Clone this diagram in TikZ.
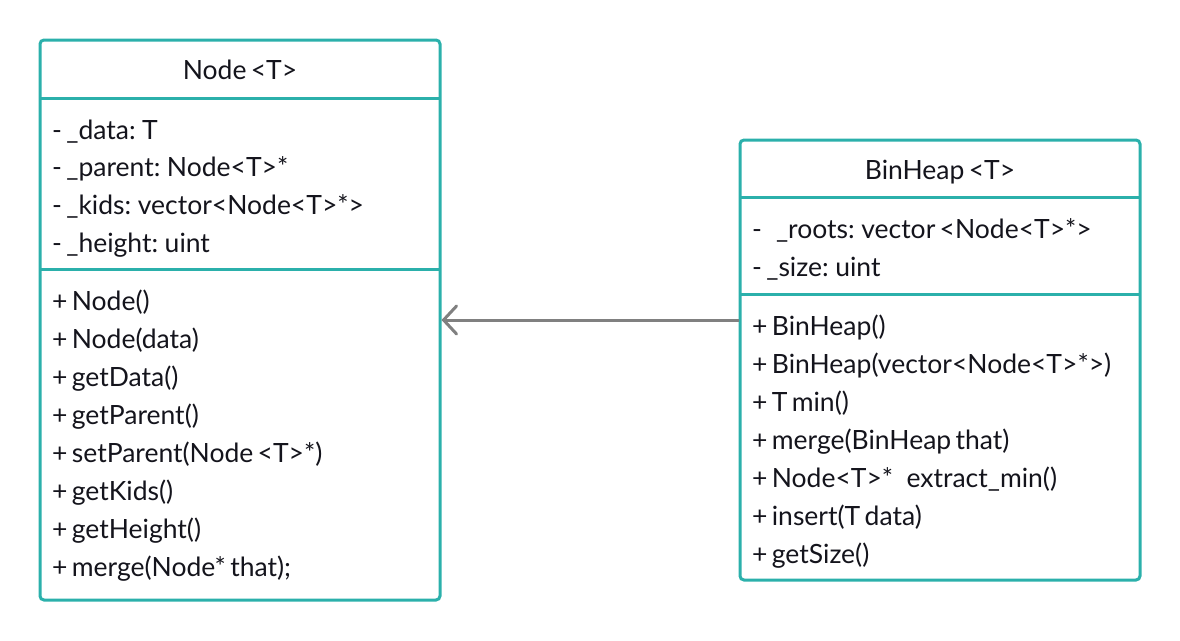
\documentclass[tikz,border=0pt]{standalone}
\usepackage{fontspec}
\setmainfont{Lato}
\usetikzlibrary{arrows.meta}
\definecolor{teal}{HTML}{2BB0AB}
\definecolor{txt}{HTML}{14141C}
\definecolor{arr}{HTML}{808080}
\newcommand{\umlfont}{\fontsize{26.5}{30}\selectfont\spaceskip=4.3pt plus 1pt minus 1pt\relax}
\tikzset{
  classbox/.style={draw=teal, line width=3pt, rounded corners=4pt, fill=white, inner sep=0pt},
  divider/.style={draw=teal, line width=3pt},
  member/.style={anchor=west, inner sep=0pt, text=txt, font=\umlfont, text height=23.4pt, text depth=4.4pt},
  title/.style={member, anchor=center},
  assoc/.style={draw=arr, line width=3pt, -{Straight Barb[length=13pt, width=28pt, line cap=round]}}
}
\begin{document}
\begin{tikzpicture}[x=1pt, y=-1pt]
\useasboundingbox (0,0) rectangle (1180,640);
% Node box
\node[classbox, minimum width=400pt, minimum height=560pt] (nodebox) at (240,320) {};
\draw[divider] (40,98) coordinate (nd1a) -- (440,98) coordinate (nd1b);
\draw[divider] (40,269) coordinate (nd2a) -- (440,269) coordinate (nd2b);
\node[title] (ntitle) at (240,70) {Node <T>};
\node[member] (na1) at (52,130) {- \_data: T};
\node[member] (na2) at (52,167) {- \_parent: Node<T>*};
\node[member] (na3) at (52,205) {- \_kids: vector<Node<T>*>};
\node[member] (na4) at (52,243) {- \_height: uint};
\node[member] (nm1) at (52,301) {+ Node()};
\node[member] (nm2) at (52,339) {+ Node(data)};
\node[member] (nm3) at (52,377) {+ getData()};
\node[member] (nm4) at (52,415) {+ getParent()};
\node[member] (nm5) at (52,453) {+ setParent(Node <T>*)};
\node[member] (nm6) at (52,491) {+ getKids()};
\node[member] (nm7) at (52,529) {+ getHeight()};
\node[member] (nm8) at (52,567) {+ merge(Node* that);};
% BinHeap box
\node[classbox, minimum width=400pt, minimum height=440pt] (heapbox) at (940,360) {};
\draw[divider] (740,197) coordinate (hd1a) -- (1140,197) coordinate (hd1b);
\draw[divider] (740,294) coordinate (hd2a) -- (1140,294) coordinate (hd2b);
\node[title] (htitle) at (940,170) {BinHeap <T>};
\node[member] (ha1) at (752,229) {-\hspace{14pt}\_roots: vector <Node<T>*>};
\node[member] (ha2) at (752,267) {- \_size: uint};
\node[member] (hm1) at (752,326) {+ BinHeap()};
\node[member] (hm2) at (752,364) {+ BinHeap(vector<Node<T>*>)};
\node[member] (hm3) at (752,402) {+ T min()};
\node[member] (hm4) at (752,440) {+ merge(BinHeap that)};
\node[member] (hm5) at (752,478) {+ Node<T>*\hspace{9pt} extract\_min()};
\node[member] (hm6) at (752,516) {+ insert(T data)};
\node[member] (hm7) at (752,554) {+ getSize()};
% association
\draw[assoc] (heapbox.west |- 0,320) -- (nodebox.east |- 0,320);
\end{tikzpicture}
\end{document}
